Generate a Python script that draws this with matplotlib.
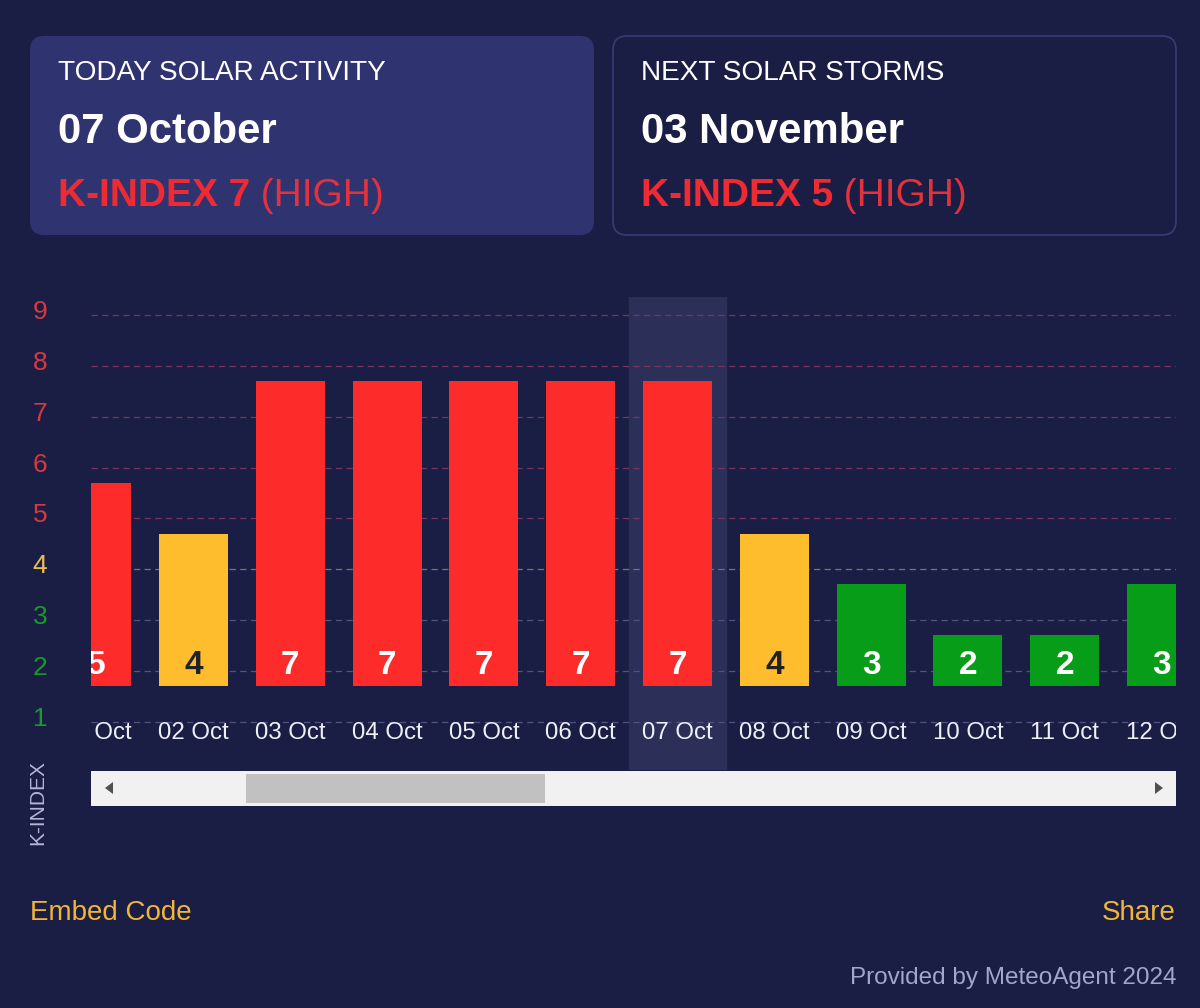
import matplotlib
matplotlib.use("Agg")
import matplotlib.pyplot as plt
from matplotlib.patches import FancyBboxPatch, Rectangle, Polygon
from matplotlib.transforms import blended_transform_factory
import numpy as np

plt.rcParams['font.family'] = ['Liberation Sans', 'DejaVu Sans']

# data
dates = ["01 Oct", "02 Oct", "03 Oct", "04 Oct", "05 Oct", "06 Oct",
         "07 Oct", "08 Oct", "09 Oct", "10 Oct", "11 Oct", "12 Oct"]
kindex = [5, 4, 7, 7, 7, 7, 7, 4, 3, 2, 2, 3]
today_idx = 6
levels = [1, 2, 3, 4, 5, 6, 7, 8, 9]

today_title = "TODAY SOLAR ACTIVITY"
today_date = "07 October"
today_k = 7
next_title = "NEXT SOLAR STORMS"
next_date = "03 November"
next_k = 5

# colours
BG = "#1b1e44"
CARD = "#2f3470"
RED = "#fe2b2b"
YELLOW = "#fdbd2c"
GREEN = "#089d18"
TXT_RED = "#ee2b33"


def bar_color(v):
    if v >= 5:
        return RED
    if v == 4:
        return YELLOW
    return GREEN


def label_color(v):
    if v >= 5:
        return "#d8383f"
    if v == 4:
        return "#eac04a"
    return "#169a2e"


def grid_color(v):
    if v >= 5:
        return "#7a3460"
    if v == 4:
        return "#77766a"
    return "#4e5380"


fig = plt.figure(figsize=(12, 10.08), dpi=100, facecolor=BG)

# pixel canvas for the page furniture
canvas = fig.add_axes([0, 0, 1, 1], zorder=0)
canvas.set_xlim(0, 1200)
canvas.set_ylim(1008, 0)
canvas.axis("off")
canvas.set_facecolor(BG)

# cards
canvas.add_patch(FancyBboxPatch((30, 36), 564, 199, boxstyle="round,pad=0,rounding_size=14",
                                facecolor=CARD, edgecolor="none"))
canvas.add_patch(FancyBboxPatch((613, 36), 563, 199, boxstyle="round,pad=0,rounding_size=14",
                                facecolor=BG, edgecolor="#383c72", linewidth=1.2))

renderer = fig.canvas.get_renderer()


def card_text(x, title, date, k):
    canvas.text(x, 80, title, color="white", fontsize=20.2, va="baseline")
    canvas.text(x, 143, date, color="white", fontsize=30.2, fontweight="bold", va="baseline")
    t = canvas.text(x, 206, f"K-INDEX {k}", color=TXT_RED, fontsize=28,
                    fontweight="bold", va="baseline")
    ext = t.get_window_extent(renderer)
    canvas.text(ext.x1, 206, " (HIGH)", color="#e4323c", fontsize=28, va="baseline")


card_text(58, today_title, today_date, today_k)
card_text(641, next_title, next_date, next_k)

# chart axes, pixel layout: base of bars at 686 px, 50.8 px per K unit
base_px, unit_px = 686, 50.8
top_px, bot_px = 297, 770
left_px, right_px = 91, 1176
x0_px, step_px = 96.7, 96.8


def py(p):
    return 1 + (base_px - p) / unit_px


ax = fig.add_axes([left_px / 1200, 1 - bot_px / 1008,
                   (right_px - left_px) / 1200, (bot_px - top_px) / 1008], zorder=1)
ax.set_facecolor("none")
ax.set_xlim((left_px - x0_px) / step_px, (right_px - x0_px) / step_px)
ax.set_ylim(py(bot_px), py(top_px))
ax.axis("off")

x = np.arange(len(dates))
vals = np.array(kindex)

ax.axvspan(today_idx - 0.5, today_idx + 0.5, color="#2c2f58", zorder=0)

# grid lines sit 0.7 below each level
grid_y = [lv - 0.70 for lv in levels]
for lv, gy in zip(levels, grid_y):
    ax.axhline(gy, color=grid_color(lv), linewidth=0.9, linestyle=(0, (5, 3.5)), zorder=1)

ax.bar(x, vals - 1, bottom=1, width=0.713, color=[bar_color(v) for v in vals],
       zorder=2, clip_on=True)

for xi, v, d in zip(x, vals, dates):
    ax.text(xi, py(674), str(v), ha="center", va="baseline", fontsize=24,
            fontweight="bold", color="#222222" if v == 4 else "white",
            zorder=3, clip_on=True)
    ax.text(xi, py(739), d, ha="center", va="baseline", fontsize=17.3,
            color="#eef0f8", zorder=3, clip_on=True)

# y labels
tr = blended_transform_factory(fig.transFigure, ax.transData)
for lv, gy in zip(levels, grid_y):
    ax.text(40 / 1200, gy + 3 / unit_px, str(lv), transform=tr, ha="center", va="center",
            fontsize=19, color=label_color(lv), clip_on=False)

canvas.text(38, 803, "K-INDEX", rotation=90, ha="center", va="center",
            fontsize=15, color="#b4b7d6")

# scrollbar
canvas.add_patch(Rectangle((91, 771), 1085, 35, facecolor="#f1f1f1", edgecolor="none"))
canvas.add_patch(Rectangle((246, 774), 299, 29, facecolor="#c1c1c1", edgecolor="none"))
canvas.add_patch(Polygon([(105, 788), (113, 782), (113, 794)], closed=True,
                         facecolor="#505050", edgecolor="none"))
canvas.add_patch(Polygon([(1163, 788), (1155, 782), (1155, 794)], closed=True,
                         facecolor="#505050", edgecolor="none"))

# footer
canvas.text(30, 920, "Embed Code", color="#f2b536", fontsize=20, va="baseline")
canvas.text(1176, 920, "Share", color="#f2b536", fontsize=20, va="baseline", ha="right")
canvas.text(1176, 984, "Provided by MeteoAgent 2024", color="#a3a6cc", fontsize=17.5,
            va="baseline", ha="right")

fig.savefig("out.png", dpi=100, facecolor=BG)
